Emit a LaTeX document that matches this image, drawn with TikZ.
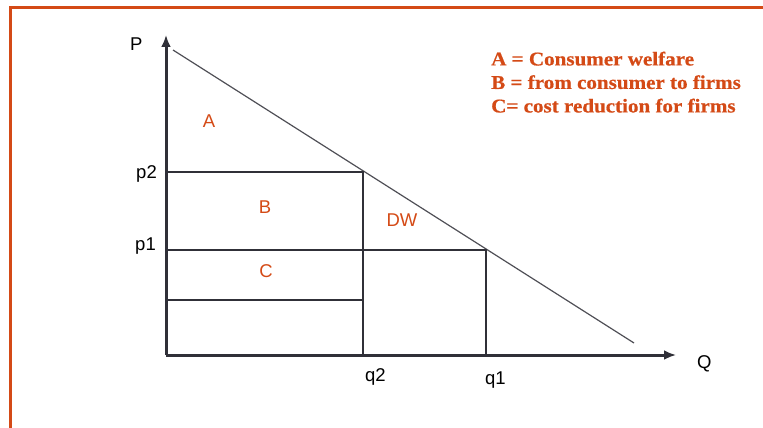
\documentclass[tikz,border=0pt]{standalone}
\usepackage{fontspec}
\setmainfont{Liberation Serif}
\setsansfont{Liberation Sans}
\newfontfamily\keyfont[FakeStretch=1.08, FakeBold=0.6]{Liberation Serif}
\usetikzlibrary{arrows.meta,positioning}
\definecolor{labelred}{RGB}{212,74,22}
\definecolor{axisgray}{RGB}{48,48,56}
\begin{document}
\begin{tikzpicture}[x=1pt, y=-1pt, >={Latex[length=12pt,width=10pt]},
  every node/.style={font=\sffamily\fontsize{18.5}{22}\selectfont, inner sep=0pt},
  area/.style={text=labelred},
  axis/.style={->, axisgray, line width=3pt},
  grid/.style={axisgray, line width=1.5pt}]
\useasboundingbox (0,0) rectangle (763,428);
\draw[labelred, line width=3pt] (10,428) -- (10,8) -- (763,8);
% axes
\coordinate (o) at (166,355);
\coordinate (ptop) at (166,35);
\coordinate (qend) at (676,355);
\draw[axis] (o) -- (ptop);
\draw[axis] (o) -- (qend);
\node[anchor=base west] (P) at (130,51) {P};
\node[anchor=base west] (Q) at (697,368) {Q};
% demand
\coordinate (d0) at (173,50);
\coordinate (d1) at (634,343);
\draw[axisgray!85, line width=1.2pt] (d0) -- (d1);
% prices and quantities
\coordinate (p2) at (166,172);
\coordinate (p1) at (166,250);
\coordinate (pc) at (166,300);
\coordinate (e2) at (363,172);
\coordinate (e1) at (486,250);
\coordinate (c2) at (363,300);
\coordinate (q2) at (363,355);
\coordinate (q1) at (486,355);
\draw[grid] (p2) -- (e2) -- (q2);
\draw[grid] (p1) -- (e1) -- (q1);
\draw[grid] (pc) -- (c2);
\node[anchor=base east] (lp2) at (157,178) {p2};
\node[anchor=base east] (lp1) at (156,250) {p1};
\node[anchor=base west] (lq2) at (365,381) {q2};
\node[anchor=base west] (lq1) at (485,384) {q1};
% areas
\node[area] (A) at (209,121) {A};
\node[area] (B) at (265,207) {B};
\node[area] (C) at (266,271) {C};
\node[area] (DW) at (402,220) {DW};
% legend
\node[text=labelred, anchor=north west, align=left,
  font=\keyfont\bfseries\fontsize{19.5}{23.5}\selectfont] (key) at (491,51.5)
  {A = Consumer welfare\\B = from consumer to firms\\C= cost reduction for firms};
\end{tikzpicture}
\end{document}
